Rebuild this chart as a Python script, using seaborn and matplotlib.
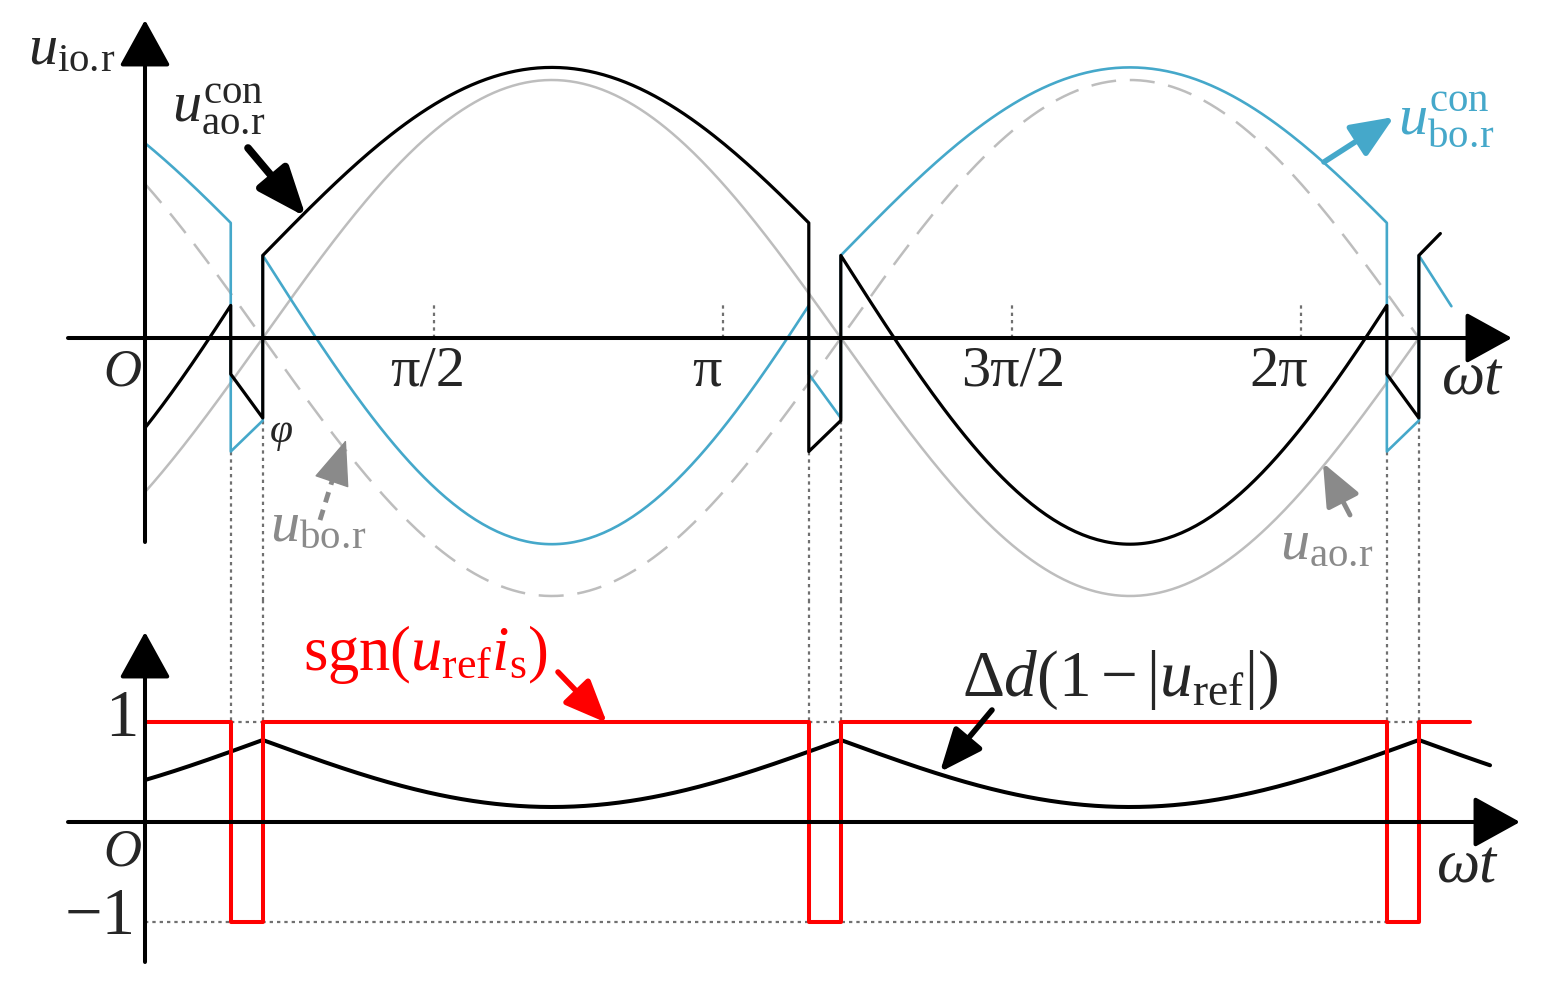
import numpy as np
import seaborn as sns
import matplotlib.pyplot as plt

# --- values ---------------------------------------------------------------
# angles in rad (omega*t)
phi = 0.640           # zero crossing of u_ref, marked with "phi"
theta_is = 0.466      # zero crossing of i_s, sgn(u_ref*i_s) turns -1 here
windows = [0, 1, 2]   # sgn = -1 windows at theta_is + k*pi .. phi + k*pi

# top panel, per unit of the plain reference amplitude
u_amp = 1.0
con_gain = 0.924      # slope of the shifted waveform vs the plain one
con_offset = 0.32     # shift at the zero crossing of u_ref
con_shape = 0.61      # how much the shift shrinks towards the peaks
dip_rise = [-0.14, -0.31]   # phase coming up through zero: start / end of window
dip_fall = [-0.44, -0.32]   # phase going down through zero: start / end of window
end_a = 7.04
end_b = 7.10
end_ref = phi + 2 * np.pi
tick_pos = [np.pi / 2, np.pi, 3 * np.pi / 2, 2 * np.pi]
tick_txt = ["\u03c0/2", "\u03c0", "3\u03c0/2", "2\u03c0"]

# bottom panel
dd_peak = 0.82
dd_shape = 0.817
end_dd = 7.31
end_sgn = 7.20
sgn_levels = [1, -1]

BLUE = "#45a8ca"
GRAY = "#bdbdbd"
DGRAY = "#8a8a8a"
RED = "#ff0000"

sns.set_theme(style="white")
plt.rcParams["font.family"] = ["Liberation Serif", "DejaVu Serif"]
plt.rcParams["mathtext.fontset"] = "custom"
plt.rcParams["mathtext.rm"] = "Liberation Serif"
plt.rcParams["mathtext.it"] = "Liberation Serif:italic"
plt.rcParams["mathtext.bf"] = "Liberation Serif:bold"


def ref(t, sign):
    return sign * u_amp * np.sin(t - phi)


def con_smooth(t, sign):
    u = ref(t, sign)
    return con_gain * u + con_offset * (1 - con_shape * np.abs(u))


def con_curve(sign, end):
    xs, ys = [], []
    starts = [0.0] + [phi + k * np.pi for k in windows]
    stops = [theta_is + k * np.pi for k in windows] + [end]
    for k in range(len(starts)):
        t = np.linspace(starts[k], stops[k], 150)
        xs.append(t)
        ys.append(con_smooth(t, sign))
        if k < len(windows):
            rising = sign * (-1) ** k > 0
            xs.append([theta_is + k * np.pi, phi + k * np.pi])
            ys.append(dip_rise if rising else dip_fall)
    return np.concatenate(xs), np.concatenate(ys)


W, H = 1541, 994
fig = plt.figure(figsize=(W / 100, H / 100), dpi=100)
SPLIT = 600
ax = fig.add_axes([0, 1 - SPLIT / H, 1, SPLIT / H])
bx = fig.add_axes([0, 0, 1, 1 - SPLIT / H])

X0, PXR = 145, 184.0
Y0T, PXU = 338, 258.0
Y0B, PXV = 822, 100.0


def tp(x, y):
    return (x - X0) / PXR, (Y0T - y) / PXU


def bp(x, y):
    return (x - X0) / PXR, (Y0B - y) / PXV


ax.set_xlim(tp(0, 0)[0], tp(W, 0)[0])
ax.set_ylim(tp(0, SPLIT)[1], tp(0, 0)[1])
bx.set_xlim(ax.get_xlim())
bx.set_ylim(bp(0, H)[1], bp(0, SPLIT)[1])
for a in (ax, bx):
    a.set_axis_off()

# ---- top panel curves
t_ref = np.linspace(0, end_ref, 600)
sns.lineplot(x=t_ref, y=ref(t_ref, 1), ax=ax, color=GRAY, lw=1.8,
             sort=False, estimator=None, zorder=2)
sns.lineplot(x=t_ref, y=ref(t_ref, -1), ax=ax, color=GRAY, lw=1.8,
             sort=False, estimator=None, zorder=2)
ax.lines[-1].set_dashes([10, 5.5])

xb, yb = con_curve(-1, end_b)
sns.lineplot(x=xb, y=yb, ax=ax, color=BLUE, lw=1.9, sort=False,
             estimator=None, zorder=3)
xa, ya = con_curve(1, end_a)
sns.lineplot(x=xa, y=ya, ax=ax, color="black", lw=2.3, sort=False,
             estimator=None, zorder=4)

# dotted guides through the sgn windows
dot = dict(color="#707070", lw=1.6, ls=(0, (1.5, 1.8)), zorder=1)
y_low = ax.get_ylim()[0]
b_top = bx.get_ylim()[1]
for k in windows:
    t1, t2 = theta_is + k * np.pi, phi + k * np.pi
    ax.plot([t1, t1], [dip_fall[0], y_low], **dot)
    ax.plot([t2, t2], [min(dip_rise[1], dip_fall[1]), y_low], **dot)
    bx.plot([t1, t1], [b_top, sgn_levels[0]], **dot)
    bx.plot([t2, t2], [b_top, sgn_levels[0]], **dot)
    bx.plot([t1, t2], [sgn_levels[0], sgn_levels[0]], **dot)
bx.plot([0, theta_is + 2 * np.pi], [sgn_levels[1]] * 2, **dot)

for p in tick_pos:
    ax.plot([p, p], [0, 0.13], **dot)

# ---- bottom panel curves
t_dd = np.linspace(0, end_dd, 600)
dd = dd_peak * (1 - dd_shape * np.abs(np.sin(t_dd - phi)))
sns.lineplot(x=t_dd, y=dd, ax=bx, color="black", lw=2.9, sort=False,
             estimator=None, zorder=3)

edges = [0.0]
for k in windows:
    edges += [theta_is + k * np.pi, phi + k * np.pi]
edges.append(end_sgn)
sx, sy = [], []
for i in range(len(edges) - 1):
    lvl = sgn_levels[i % 2]
    sx += [edges[i], edges[i + 1]]
    sy += [lvl, lvl]
sns.lineplot(x=sx, y=sy, ax=bx, color=RED, lw=2.9, sort=False,
             estimator=None, zorder=4)


# ---- axes with arrow heads
def arrow(a, tail, tip, color="black", lw=2.9, hl=1.45, hw=0.8, ms=20, z=6):
    a.annotate("", xy=tip, xytext=tail,
               arrowprops=dict(arrowstyle=f"-|>,head_length={hl},head_width={hw}",
                               color=color, lw=lw, shrinkA=0, shrinkB=0,
                               mutation_scale=ms),
               zorder=z)


arrow(ax, tp(145, 542), tp(145, 20))
arrow(ax, tp(68, 338), tp(1512, 338))
arrow(bx, bp(145, 962), bp(145, 632))
arrow(bx, bp(68, 822), bp(1520, 822))

# pointer arrows
arrow(ax, tp(248, 148), tp(306, 217), lw=5.5, hl=1.5, hw=0.6)
arrow(ax, tp(1324, 162), tp(1394, 117), color=BLUE, lw=4, hl=1.3, hw=0.55)
# dashed shaft + solid head for the u_bo.r pointer
ax.plot(*zip(tp(320, 520), tp(333, 478)), color=DGRAY, lw=3.5,
        ls=(0, (2.2, 1.6)), zorder=6)
arrow(ax, tp(333, 478), tp(346, 440), color=DGRAY, lw=1, hl=1.5, hw=0.6)
arrow(ax, tp(1350, 515), tp(1323, 463), color=DGRAY, lw=3.5, hl=1.3, hw=0.55)
arrow(bx, bp(558, 672), bp(607, 723), color=RED, lw=4, hl=1.3, hw=0.55)
arrow(bx, bp(992, 710), bp(940, 772), lw=4, hl=1.3, hw=0.55)

# ---- labels
big = 42
ax.text(*tp(28, 50), r"$u_{\mathrm{io}.\!\mathrm{r}}$", fontsize=big, ha="left", va="center")
ax.text(*tp(172, 110), r"$u_{\mathrm{ao}.\!\mathrm{r}}^{\mathrm{con}}$", fontsize=big,
        ha="left", va="center")
ax.text(*tp(1398, 120), r"$u_{\mathrm{bo}.\!\mathrm{r}}^{\mathrm{con}}$", fontsize=big,
        ha="left", va="center", color=BLUE)
ax.text(*tp(270, 527), r"$u_{\mathrm{bo}.\!\mathrm{r}}$", fontsize=big, ha="left",
        va="center", color=DGRAY)
ax.text(*tp(1280, 545), r"$u_{\mathrm{ao}.\!\mathrm{r}}$", fontsize=big, ha="left",
        va="center", color=DGRAY)
ax.text(*tp(122, 372), "O", fontsize=38, style="italic", ha="center", va="center")
ax.text(*tp(281, 432), "\u03c6", fontsize=30, style="italic", ha="center", va="center")
tick_px = [428, 707, 1013, 1279]
for p, s, xp in zip(tick_pos, tick_txt, tick_px):
    ax.text(tp(xp, 0)[0], tp(0, 372)[1], s, fontsize=big, ha="center", va="center")
ax.text(*tp(1472, 380), "\u03c9t", fontsize=big + 2, style="italic", ha="center",
        va="center")

bx.text(*bp(122, 720), "1", fontsize=big + 6, ha="center", va="center")
bx.text(*bp(100, 918), "\u22121", fontsize=big + 6, ha="center", va="center")
bx.text(*bp(122, 852), "O", fontsize=38, style="italic", ha="center", va="center")
bx.text(*bp(1467, 868), "\u03c9t", fontsize=big + 2, style="italic", ha="center",
        va="center")
bx.text(*bp(303, 655), r"$\mathrm{sgn}(u_{\mathrm{ref}}i_{\mathrm{s}})$", fontsize=45,
        ha="left", va="center", color=RED)
bx.text(*bp(962, 680), r"$\Delta d(1-|u_{\mathrm{ref}}|)$", fontsize=47,
        ha="left", va="center")

fig.savefig("out.png", dpi=100)
